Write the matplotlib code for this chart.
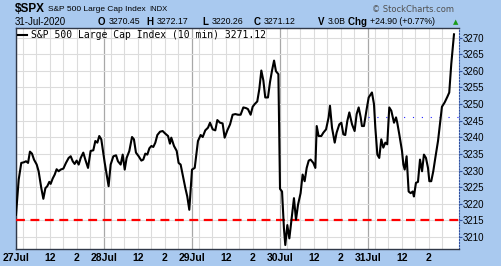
import matplotlib.pyplot as plt
import numpy as np

# 10-min S&P 500 prices, time = trading hours since 27 Jul 9:30 (6.5 h per session)
hours = [0.00, 0.20, 0.39, 0.59, 0.74, 0.89, 1.03, 1.18, 1.33, 1.53, 1.67, 1.87, 2.02, 2.17,
         2.31, 2.46, 2.56, 2.71, 2.86, 3.00, 3.15, 3.30, 3.50, 3.69, 3.89, 4.04, 4.19, 4.33,
         4.48, 4.63, 4.78, 4.97, 5.12, 5.32, 5.51, 5.71, 5.86, 6.01, 6.15, 6.30,
         6.55, 6.70, 6.84, 6.99, 7.19, 7.39, 7.53, 7.73, 7.88, 8.03, 8.17, 8.37, 8.57, 8.71,
         8.86, 9.06, 9.26, 9.40, 9.55, 9.70, 9.85, 10.00, 10.14, 10.29, 10.44, 10.64, 10.83,
         11.03, 11.23, 11.37, 11.47, 11.67, 11.87, 12.01, 12.16, 12.31, 12.51, 12.65, 12.80,
         13.00, 13.20, 13.44, 13.64, 13.79, 13.98, 14.18, 14.33, 14.53, 14.72, 14.87, 15.07,
         15.26, 15.41, 15.61, 15.81, 16.00, 16.20, 16.40, 16.59, 16.79, 16.99, 17.13, 17.33,
         17.48, 17.63, 17.82, 17.97, 18.12, 18.27, 18.41, 18.61, 18.76, 18.91, 19.06, 19.20,
         19.38, 19.50, 19.65, 19.79, 19.89, 20.04, 20.19, 20.33, 20.53, 20.68, 20.83, 21.02,
         21.17, 21.32, 21.47, 21.62, 21.76, 21.96, 22.11, 22.21, 22.35, 22.55, 22.70, 22.90,
         23.09, 23.19, 23.34, 23.54, 23.68, 23.88, 24.03, 24.18, 24.32, 24.47, 24.62, 24.82,
         25.01, 25.16, 25.31, 25.46, 25.55, 25.70, 25.90, 26.05, 26.29, 26.44, 26.54, 26.69,
         26.83, 26.98, 27.13, 27.28, 27.42, 27.57, 27.72, 27.92, 28.07, 28.16, 28.31, 28.51,
         28.61, 28.71, 28.85, 29.00, 29.15, 29.30, 29.39, 29.54, 29.69, 29.84, 29.99, 30.13,
         30.28, 30.43, 30.53, 30.67, 30.82, 30.97, 31.17, 31.31, 31.46, 31.66, 31.86, 32.00,
         32.15, 32.35]
prices = [3216.7, 3227.3, 3232.3, 3232.5, 3232.8, 3232.3, 3235.7, 3235.1, 3233.3, 3231.8,
          3229.8, 3224.7, 3221.5, 3224.7, 3225.3, 3226.6, 3226.0, 3227.6, 3228.8, 3230.4,
          3229.8, 3230.3, 3230.6, 3232.3, 3233.8, 3234.3, 3232.8, 3232.0, 3233.0, 3231.8,
          3233.8, 3235.4, 3233.3, 3230.8, 3235.9, 3236.1, 3238.9, 3238.4, 3240.4, 3239.4,
          3232.4, 3228.8, 3225.3, 3231.8, 3234.3, 3234.6, 3232.8, 3231.8, 3234.8, 3230.3,
          3233.8, 3235.9, 3240.1, 3239.4, 3235.4, 3234.3, 3233.0, 3233.3, 3235.1, 3234.8,
          3236.7, 3237.4, 3237.1, 3238.4, 3240.7, 3241.7, 3241.9, 3241.1, 3240.4, 3238.1,
          3239.9, 3237.4, 3235.9, 3232.3, 3231.8, 3228.8, 3224.7, 3222.2, 3218.2,
          3230.3, 3230.8, 3238.9, 3240.7, 3240.1, 3242.1, 3242.9, 3244.4, 3242.4, 3242.1,
          3245.2, 3244.4, 3244.2, 3239.9, 3242.1, 3243.9, 3246.8, 3247.0, 3246.8, 3246.8,
          3249.0, 3248.8, 3248.5, 3246.8, 3249.2, 3250.0, 3250.8, 3254.5, 3260.1, 3257.1,
          3252.0, 3252.0, 3256.6, 3260.1, 3263.1, 3259.9,
          3259.0, 3224.5, 3223.7, 3212.6, 3207.6, 3213.6, 3209.6, 3214.6, 3221.7, 3215.2,
          3219.7, 3223.2, 3228.8, 3226.8, 3230.8, 3233.0, 3233.3, 3232.3, 3230.8, 3243.4,
          3240.4, 3240.4, 3241.4, 3242.4, 3246.0, 3249.5, 3242.9, 3238.4, 3241.4, 3243.9,
          3244.4, 3240.9, 3240.7, 3244.9, 3247.5, 3243.9, 3241.9, 3247.0, 3249.0, 3246.0,
          3243.4, 3243.4, 3248.5, 3252.0, 3253.5, 3250.0, 3242.9, 3234.8, 3233.8, 3239.4,
          3236.9, 3238.4, 3237.9, 3249.0, 3248.0, 3244.4, 3246.0, 3244.4, 3240.9, 3235.9,
          3231.8, 3230.3, 3234.3, 3223.7, 3223.2, 3223.7, 3222.2, 3226.3, 3226.6, 3233.3,
          3229.8, 3234.8, 3233.8, 3230.8, 3226.8, 3226.8, 3229.8, 3233.8, 3238.9, 3243.9,
          3249.2, 3250.5, 3252.2, 3253.5, 3262.1, 3271.0]

day_labels = ['27Jul', '28Jul', '29Jul', '30Jul', '31Jul']
session_len = 6.5
support_level = 3215
prev_close = 3246.22
y_ticks = list(range(3210, 3271, 5))

bg = '#a9c9ef'
W, H = 501, 266
fig = plt.figure(figsize=(W / 100, H / 100), dpi=100, facecolor=bg)
ax = fig.add_axes([16 / W, 1 - 249 / H, (459 - 16) / W, (249 - 28) / H])
ax.set_facecolor('white')

# grid: hourly vertical lines, darker at session starts
for d in range(len(day_labels)):
    start = d * session_len
    ax.axvline(start, color='#a8a8a8', lw=0.9, zorder=1)
    for h in np.arange(0.5, 6.5, 1.0):
        ax.axvline(start + h, color='#dcdcdc', lw=0.8, zorder=1)
for v in y_ticks:
    ax.axhline(v, color='#dcdcdc', lw=0.8, zorder=1)

ax.plot(hours, prices, color='black', lw=1.5, zorder=4,
        label='S&P 500 Large Cap Index (10 min) 3271.12')
ax.axhline(support_level, color='#ff0000', lw=1.6, ls=(0, (4, 2.5)), zorder=3)
ax.plot([4 * session_len, 5 * session_len + 0.22], [prev_close, prev_close],
        color='#2020ff', lw=0.8, ls=(0, (1, 7)), zorder=2)

ax.set_xlim(0, 32.72)
ax.set_ylim(3206.4, 3272.9)

# x ticks: day names, noon and 2 pm
xt, xl = [], []
for d, lab in enumerate(day_labels):
    xt += [d * session_len, d * session_len + 2.5, d * session_len + 4.5]
    xl += [lab, '12', '2']
ax.set_xticks(xt)
ax.set_xticklabels(xl, fontsize=7.5, fontweight='bold', family='Liberation Sans')
ax.tick_params(axis='x', length=0, pad=3)

ax.yaxis.tick_right()
ax.set_yticks(y_ticks)
ax.set_yticklabels([str(v) for v in y_ticks], fontsize=7, family='Liberation Sans')
ax.tick_params(axis='y', length=2, pad=1, color='#3050a0')

for s in ['left', 'top', 'bottom']:
    ax.spines[s].set_color('#303848')
    ax.spines[s].set_linewidth(1.0)
ax.spines['right'].set_color('#3050a0')
ax.spines['right'].set_linestyle(':')

leg = ax.legend(loc='upper left', frameon=False, handlelength=0.9, handletextpad=0.4,
                borderaxespad=0.1, borderpad=0.1,
                prop={'family': 'DejaVu Sans Mono', 'size': 7})

# header
def px(x, y):
    return x / W, 1 - y / H

def put(x0, y, s, gap=0, **kw):
    # place text at x0 (pixels), return its right edge in pixels
    t = fig.text(*px(x0, y), s, family='Liberation Sans', va='center', **kw)
    fig.canvas.draw()
    return t.get_window_extent().x1 + gap

x = put(15, 9, r'\$SPX', gap=3, fontsize=8.5, fontweight='bold')
x = put(x, 9.5, 'S&P 500 Large Cap Index', gap=3, fontsize=6)
put(x, 9.5, 'INDX', fontsize=5.5)
fig.text(*px(372, 9), '© StockCharts.com', fontsize=6, family='DejaVu Sans', color='#505050', va='center')

put(15, 22, '31-Jul-2020', fontsize=7)
header = [(98, 'O', '3270.45'), (147, 'H', '3272.17'), (203, 'L', '3220.26'),
          (254, 'C', '3271.12'), (318, 'V', '3.0B'), (345, 'Chg', '+24.90 (+0.77%)')]
prev_end = 0
for x0, key, val in header:
    x = put(max(x0, prev_end + 3), 22, key + ' ', fontsize=7, fontweight='bold')
    prev_end = put(x, 22, val, fontsize=6.3)
fig.text(*px(453, 22), '▲', fontsize=5, color='#1a9a1a', family='DejaVu Sans', va='center')

fig.savefig('out.png', dpi=100, facecolor=bg)
